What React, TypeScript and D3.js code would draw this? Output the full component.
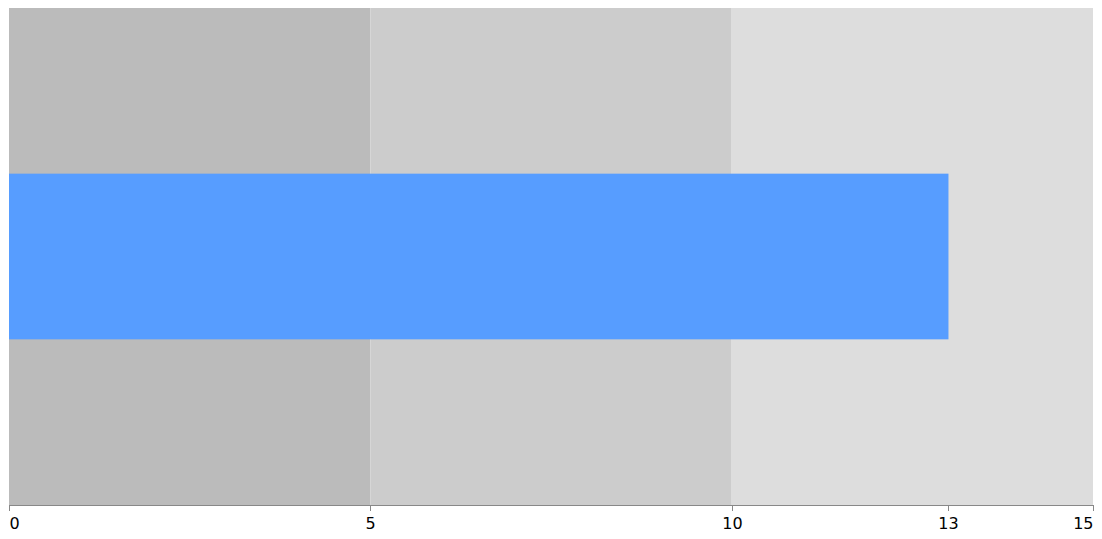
import React from 'react';
import * as d3 from 'd3';

// bullet ranges (upper bounds) and the measure
const RANGES = [5, 10, 15];
const RANGE_COLORS = ['#bbbbbb', '#cccccc', '#dddddd'];
const MEASURE = 13;
const TICKS = [0, 5, 10, 13, 15];

export default function App() {
  const width = 1086;
  const height = 531;
  const margin = { top: 0, right: 1, bottom: 34, left: 1 };
  const innerW = width - margin.left - margin.right;
  const innerH = height - margin.top - margin.bottom;

  const x = d3.scaleLinear().domain([0, 15]).range([0, innerW]);
  const lo = [0, ...RANGES.slice(0, -1)];

  return (
    <svg width={width} height={height} style={{ display: 'block', fontFamily: 'DejaVu Sans, sans-serif' }}>
      <g transform={`translate(${margin.left},${margin.top})`}>
        {RANGES.map((r, i) => (
          <rect key={r} x={x(lo[i])} y={0} width={x(r) - x(lo[i])} height={innerH} fill={RANGE_COLORS[i]} />
        ))}
        <rect x={x(0)} y={innerH / 3} width={x(MEASURE) - x(0)} height={innerH / 3} fill="#579dff" />
        <g transform={`translate(0,${innerH})`}>
          <line x1={x(0)} x2={x(15)} y1={0.5} y2={0.5} stroke="#888" />
          {TICKS.map((t, i) => (
            <g key={t} transform={`translate(${Math.round(x(t)) + 0.5},0)`}>
              <line y1={0} y2={6} stroke="#888" />
              <text
                y={24}
                fontSize={16}
                fill="#000"
                textAnchor={i === 0 ? 'start' : i === TICKS.length - 1 ? 'end' : 'middle'}
              >
                {t}
              </text>
            </g>
          ))}
        </g>
      </g>
    </svg>
  );
}
